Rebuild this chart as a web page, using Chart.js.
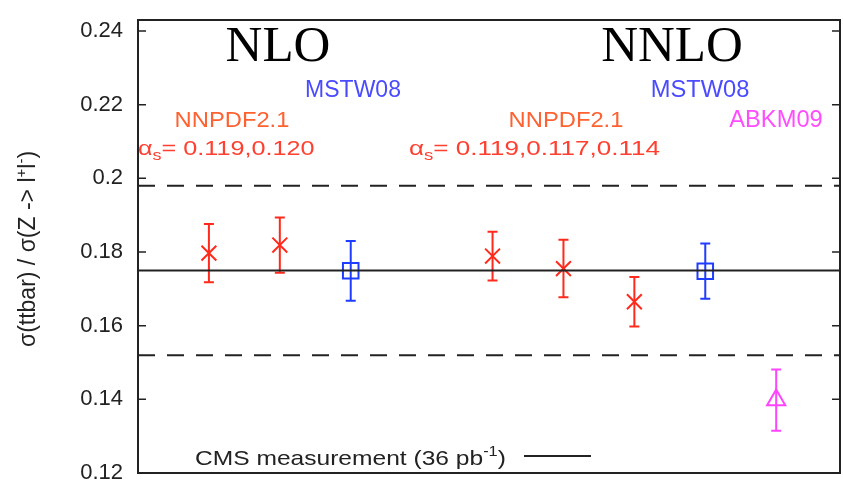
<!DOCTYPE html>
<html>
<head>
<meta charset="utf-8">
<script src="https://cdn.jsdelivr.net/npm/chart.js@4.4.1/dist/chart.umd.min.js"></script>
<style>
  html, body { margin: 0; padding: 0; background: #fff; }
  #chart { display: block; }
</style>
</head>
<body>
<canvas id="chart" width="843" height="482"></canvas>
<script>
// x slots: 1-3 NLO, 5-8 NNLO (slot 4 left empty)
const nnpdfX = [1, 2, 5, 6, 7];
const nnpdfY = [0.1797, 0.1819, 0.1789, 0.1755, 0.1665];
const nnpdfErr = [0.0079, 0.0075, 0.0066, 0.0078, 0.0067];

const mstwX = [3, 8];
const mstwY = [0.1749, 0.1748];
const mstwErr = [0.0081, 0.0075];

const abkmX = [9];
const abkmY = [0.1398];
const abkmErr = [0.0083];

const cmsValue = 0.175;
const cmsErr = 0.023;
const xRange = [0, 9.9];

const yMin = 0.12;
const yMax = 0.243;
const yStep = 0.02;

const RED = "#ff2a1c";
const BLUE = "#1f3dff";
const MAGENTA = "#ff44ff";
const SANS = "'Liberation Sans', Arial, sans-serif";

function points(xs, ys, errs) {
  return xs.map((x, i) => ({ x: x, y: ys[i], err: errs[i] }));
}

function hline(y) {
  return xRange.map((x) => ({ x: x, y: y }));
}

// vertical error bars with small caps
const errorBars = {
  id: "errorBars",
  beforeDatasetsDraw(chart) {
    const { ctx, scales } = chart;
    chart.data.datasets.forEach((ds) => {
      if (!ds.withErr) return;
      ctx.save();
      ctx.strokeStyle = ds.borderColor;
      ctx.lineWidth = 2;
      ds.data.forEach((p) => {
        const x = scales.x.getPixelForValue(p.x);
        const y1 = scales.y.getPixelForValue(p.y + p.err);
        const y2 = scales.y.getPixelForValue(p.y - p.err);
        ctx.beginPath();
        ctx.moveTo(x, y1);
        ctx.lineTo(x, y2);
        ctx.moveTo(x - 5, y1);
        ctx.lineTo(x + 5, y1);
        ctx.moveTo(x - 5, y2);
        ctx.lineTo(x + 5, y2);
        ctx.stroke();
      });
      ctx.restore();
    });
  },
};

// draws runs of [text, size, dy] left to right, stretched by sx
function drawRuns(ctx, runs, x, y, sx, color, align) {
  ctx.save();
  ctx.fillStyle = color;
  ctx.textAlign = "left";
  let w = 0;
  runs.forEach(([t, size]) => {
    ctx.font = size + "px " + SANS;
    w += ctx.measureText(t).width;
  });
  ctx.translate(x, y);
  ctx.scale(sx, 1);
  let cx = align === "center" ? -w / 2 : 0;
  runs.forEach(([t, size, dy]) => {
    ctx.font = size + "px " + SANS;
    ctx.fillText(t, cx, dy || 0);
    cx += ctx.measureText(t).width;
  });
  ctx.restore();
}

// frame, inward ticks, labels, legend, y title
const decorations = {
  id: "decorations",
  afterDraw(chart) {
    const { ctx, chartArea: a, scales } = chart;
    ctx.save();

    ctx.strokeStyle = "#222";
    ctx.lineWidth = 2;
    ctx.strokeRect(a.left, a.top, a.right - a.left, a.bottom - a.top);
    ctx.lineWidth = 1.5;
    scales.y.ticks.forEach((t) => {
      const y = scales.y.getPixelForValue(t.value);
      ctx.beginPath();
      ctx.moveTo(a.left, y);
      ctx.lineTo(a.left + 8, y);
      ctx.moveTo(a.right, y);
      ctx.lineTo(a.right - 8, y);
      ctx.stroke();
    });

    ctx.textBaseline = "alphabetic";
    ctx.textAlign = "center";
    ctx.fillStyle = "#000";
    ctx.font = "51px 'Liberation Serif', 'Times New Roman', serif";
    ctx.fillText("NLO", 278, 61);
    ctx.fillText("NNLO", 672, 61);

    drawRuns(ctx, [["MSTW08", 23]], 353, 97, 1, "#4a4aff", "center");
    drawRuns(ctx, [["MSTW08", 23]], 700, 97, 1.03, "#4a4aff", "center");
    drawRuns(ctx, [["NNPDF2.1", 22]], 232, 127, 1.08, "#ff6230", "center");
    drawRuns(ctx, [["NNPDF2.1", 22]], 566, 127, 1.08, "#ff6230", "center");
    drawRuns(ctx, [["ABKM09", 23]], 776, 127, 1.03, "#ff4cff", "center");

    drawRuns(ctx, [["\u03b1", 21], ["s", 15, 5], ["= 0.119,0.120", 21]],
      138, 155, 1.2, "#ff4030", "left");
    drawRuns(ctx, [["\u03b1", 21], ["s", 15, 5], ["= 0.119,0.117,0.114", 21]],
      409, 155, 1.24, "#ff4030", "left");

    // legend
    drawRuns(ctx, [["CMS measurement (36 pb", 21], ["-1", 14, -9], [")", 21]],
      195, 465, 1.17, "#222", "left");
    ctx.strokeStyle = "#222";
    ctx.lineWidth = 2;
    ctx.beginPath();
    ctx.moveTo(524, 456);
    ctx.lineTo(591, 456);
    ctx.stroke();

    // y axis title with superscripts
    ctx.translate(35, 249);
    ctx.rotate(-Math.PI / 2);
    drawRuns(ctx, [
      ["\u03c3(ttbar) / \u03c3(Z -> l", 23],
      ["+", 15, -9],
      ["l", 23],
      ["-", 15, -9],
      [")", 23],
    ], 0, 0, 1, "#222", "center");

    ctx.restore();
  },
};

const config = {
  type: "scatter",
  data: {
    datasets: [
      {
        type: "line",
        data: hline(cmsValue),
        borderColor: "#222",
        borderWidth: 2,
        pointRadius: 0,
      },
      {
        type: "line",
        data: hline(cmsValue + cmsErr),
        borderColor: "#222",
        borderWidth: 2,
        borderDash: [17, 12],
        pointRadius: 0,
      },
      {
        type: "line",
        data: hline(cmsValue - cmsErr),
        borderColor: "#222",
        borderWidth: 2,
        borderDash: [17, 12],
        pointRadius: 0,
      },
      {
        label: "NNPDF2.1",
        data: points(nnpdfX, nnpdfY, nnpdfErr),
        withErr: true,
        pointStyle: "crossRot",
        pointRadius: 10.5,
        borderColor: RED,
        borderWidth: 2,
      },
      {
        label: "MSTW08",
        data: points(mstwX, mstwY, mstwErr),
        withErr: true,
        pointStyle: "rect",
        pointRadius: 11,
        borderColor: BLUE,
        backgroundColor: "rgba(0,0,0,0)",
        borderWidth: 2,
      },
      {
        label: "ABKM09",
        data: points(abkmX, abkmY, abkmErr),
        withErr: true,
        pointStyle: "triangle",
        pointRadius: 10.5,
        borderColor: MAGENTA,
        backgroundColor: "rgba(0,0,0,0)",
        borderWidth: 2,
      },
    ],
  },
  options: {
    responsive: false,
    animation: false,
    layout: {
      autoPadding: false,
      padding: { top: 20, bottom: 9, right: 3, left: 0 },
    },
    plugins: {
      legend: { display: false },
      tooltip: { enabled: false },
    },
    scales: {
      x: {
        type: "linear",
        min: xRange[0],
        max: xRange[1],
        display: false,
      },
      y: {
        min: yMin,
        max: yMax,
        afterFit: (s) => {
          s.width = 138;
          s.paddingTop = 0;
          s.paddingBottom = 0;
        },
        grid: { display: false, drawTicks: false },
        border: { display: false },
        ticks: {
          stepSize: yStep,
          includeBounds: false,
          padding: 15,
          color: "#222",
          font: { family: SANS, size: 22 },
          callback: (v) => String(+v.toFixed(2)),
        },
      },
    },
  },
  plugins: [errorBars, decorations],
};

new Chart(document.getElementById("chart").getContext("2d"), config);
</script>
</body>
</html>
